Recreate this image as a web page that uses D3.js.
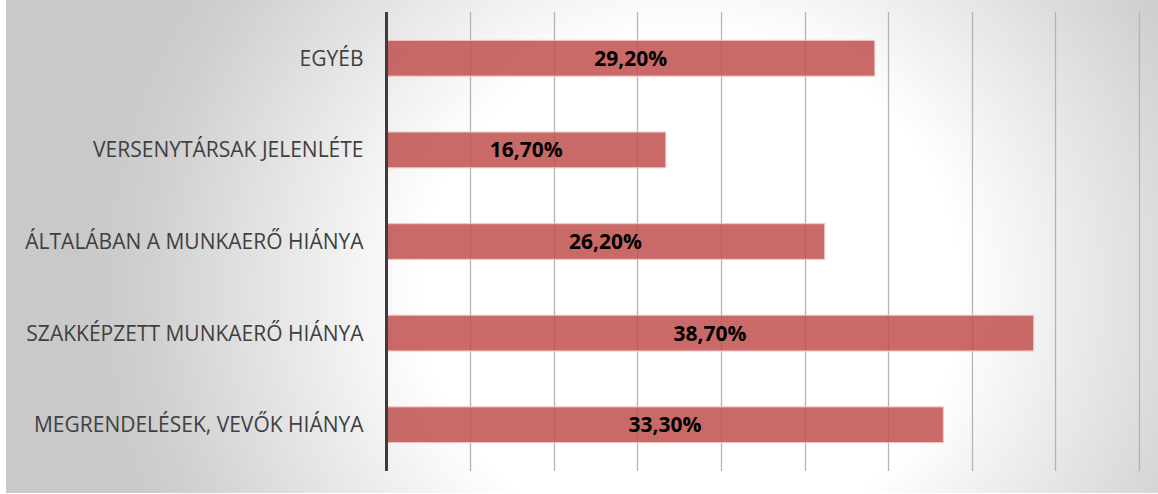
<!DOCTYPE html>
<html>
<head>
<meta charset="utf-8">
<script src="https://cdn.jsdelivr.net/npm/d3@7"></script>
<style>
  html, body { margin: 0; padding: 0; background: #ffffff; }
  svg { display: block; }
</style>
</head>
<body>
<svg id="chart" width="1158" height="494"></svg>
<script>
const categories = [
  "EGYÉB",
  "VERSENYTÁRSAK JELENLÉTE",
  "ÁLTALÁBAN A MUNKAERŐ HIÁNYA",
  "SZAKKÉPZETT MUNKAERŐ HIÁNYA",
  "MEGRENDELÉSEK, VEVŐK HIÁNYA"
];
const values = [29.2, 16.7, 26.2, 38.7, 33.3];
const labels = ["29,20%", "16,70%", "26,20%", "38,70%", "33,30%"];
const xTicks = [0, 5, 10, 15, 20, 25, 30, 35, 40, 45];

const W = 1158, H = 494;
const svg = d3.select("#chart");

const defs = svg.append("defs");
const grad = defs.append("radialGradient")
  .attr("id", "bg")
  .attr("gradientUnits", "userSpaceOnUse")
  .attr("cx", 690).attr("cy", 290).attr("r", 600)
  .attr("fx", 690).attr("fy", 290)
  .attr("gradientTransform", "translate(690,290) scale(1,0.95) translate(-690,-290)");
grad.append("stop").attr("offset", "0").attr("stop-color", "#ffffff");
grad.append("stop").attr("offset", "0.45").attr("stop-color", "#ffffff");
grad.append("stop").attr("offset", "0.9").attr("stop-color", "#d0d0d0");
grad.append("stop").attr("offset", "1").attr("stop-color", "#c9c9c9");

svg.append("rect").attr("x", 0).attr("y", 0).attr("width", W).attr("height", H).attr("fill", "#ffffff");
svg.append("rect").attr("x", 6).attr("y", 0).attr("width", W - 6).attr("height", H - 1).attr("fill", "url(#bg)");

const m = { left: 386.5, top: 12, right: 1139, bottom: 471 };
const x = d3.scaleLinear().domain([0, 45]).range([m.left, m.right]);
const y = d3.scaleBand().domain(categories).range([m.top, m.bottom]).paddingInner(0.61).paddingOuter(0.31);

// gridlines
svg.append("g")
  .selectAll("line")
  .data(xTicks.slice(1))
  .join("line")
  .attr("x1", d => Math.round(x(d)) + 0.5)
  .attr("x2", d => Math.round(x(d)) + 0.5)
  .attr("y1", m.top)
  .attr("y2", m.bottom)
  .attr("stroke", "#b4b4b4")
  .attr("stroke-width", 1.3);

// bars
svg.append("g")
  .selectAll("rect")
  .data(values)
  .join("rect")
  .attr("x", x(0))
  .attr("y", (d, i) => y(categories[i]))
  .attr("width", d => x(d) - x(0))
  .attr("height", y.bandwidth())
  .attr("fill", "#c0504d")
  .attr("fill-opacity", 0.85)
  .attr("stroke", "#f2c4c3")
  .attr("stroke-opacity", 0.9)
  .attr("stroke-width", 1.2);

// value labels
svg.append("g")
  .selectAll("text")
  .data(values)
  .join("text")
  .attr("x", d => (x(0) + x(d)) / 2)
  .attr("y", (d, i) => y(categories[i]) + y.bandwidth() / 2)
  .attr("dy", "0.36em")
  .attr("text-anchor", "middle")
  .attr("font-family", "'Open Sans', sans-serif")
  .attr("font-weight", "bold")
  .attr("font-size", 21)
  .attr("fill", "#000000")
  .text((d, i) => labels[i]);

// category axis
const yAxis = d3.axisLeft(y).tickSize(0).tickPadding(23);
const ag = svg.append("g").attr("transform", `translate(${x(0)},0)`).call(yAxis);
ag.select(".domain").remove();
ag.selectAll("text")
  .attr("dy", "0.36em")
  .attr("font-family", "'Open Sans', sans-serif")
  .attr("font-size", 21)
  .attr("fill", "#404040");

svg.append("line")
  .attr("x1", x(0)).attr("x2", x(0))
  .attr("y1", m.top).attr("y2", m.bottom)
  .attr("stroke", "#3c3c3c")
  .attr("stroke-width", 3);
</script>
</body>
</html>
